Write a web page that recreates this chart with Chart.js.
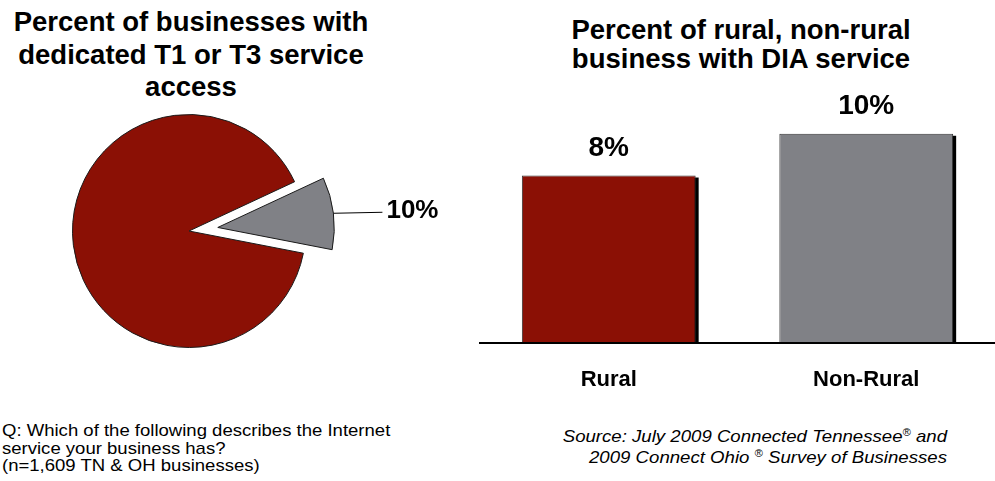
<!DOCTYPE html>
<html>
<head>
<meta charset="utf-8">
<script src="https://cdn.jsdelivr.net/npm/chart.js@4/dist/chart.umd.min.js"></script>
<style>
  html, body { margin: 0; padding: 0; background: #fff; }
  body { width: 995px; height: 481px; position: relative; overflow: hidden;
         font-family: "Liberation Sans", Arial, sans-serif; color: #000; }
  .abs { position: absolute; }
  .title { font-weight: bold; font-size: 27.5px; text-align: center; }
  #pieTitle { left: 0; width: 382px; top: 6px; line-height: 32.5px; }
  #barTitle { left: 541px; width: 400px; top: 15px; line-height: 29px; }
  #question { left: 2px; top: 422px; font-size: 17px; line-height: 17.5px;
              white-space: nowrap; transform: scaleX(1.09); transform-origin: 0 0; }
  #source { left: 447px; width: 500px; top: 426px; font-size: 17px; line-height: 21px;
            font-style: italic; text-align: right; white-space: nowrap;
            transform: scaleX(1.095); transform-origin: 100% 0; }
  sup { font-size: 60%; line-height: 0; vertical-align: 0.55em; }
  canvas { position: absolute; }
</style>
</head>
<body>
<div id="pieTitle" class="abs title">Percent of businesses with<br>dedicated T1 or T3 service<br>access</div>
<div id="barTitle" class="abs title">Percent of rural, non-rural<br>business with DIA service</div>
<div id="question" class="abs">Q: Which of the following describes the Internet<br>service your business has?<br>(n=1,609 TN &amp; OH businesses)</div>
<div id="source" class="abs">Source: July 2009 Connected Tennessee<sup>®</sup> and<br>2009 Connect Ohio <sup>®</sup> Survey of Businesses</div>

<canvas id="pie" width="470" height="262" style="left:0;top:100px;"></canvas>
<canvas id="bars" width="525" height="327" style="left:470px;top:90px;"></canvas>

<script>
// Share of businesses with dedicated T1/T3 access (percent)
const pieLabels = ['Dedicated T1 or T3', 'Other'];
const pieValues = [10, 90];

// DIA service by location type (percent)
const barLabels = ['Rural', 'Non-Rural'];
const barValues = [8, 10];

const RED = '#8B1005';
const GRAY = '#808186';
const FONT = '"Liberation Sans", Arial, sans-serif';
const EXPLODE = 29; // how far the highlighted slice is pulled out, px

// Pull the first slice out along its bisector, then add the leader line and label
const pieCallout = {
  id: 'pieCallout',
  beforeDatasetsDraw(chart) {
    const arc = chart.getDatasetMeta(0).data[0];
    if (arc._exploded) return;
    const baseDraw = Object.getPrototypeOf(arc).draw;
    arc.draw = function (ctx) {
      const mid = (this.startAngle + this.endAngle) / 2;
      ctx.save();
      ctx.translate(Math.cos(mid) * EXPLODE, Math.sin(mid) * EXPLODE);
      baseDraw.call(this, ctx);
      ctx.restore();
    };
    arc._exploded = true;
  },
  afterDatasetsDraw(chart) {
    const arc = chart.getDatasetMeta(0).data[0];
    const mid = (arc.startAngle + arc.endAngle) / 2;
    const r = arc.outerRadius + EXPLODE;
    const x0 = arc.x + Math.cos(mid) * r;
    const y0 = arc.y + Math.sin(mid) * r;
    const x1 = x0 + 49;
    const y1 = y0 - 1;
    const ctx = chart.ctx;
    ctx.save();
    ctx.strokeStyle = '#000';
    ctx.lineWidth = 1;
    ctx.beginPath();
    ctx.moveTo(x0, y0);
    ctx.lineTo(x1, y1);
    ctx.stroke();
    ctx.fillStyle = '#000';
    ctx.font = 'bold 26px ' + FONT;
    ctx.textAlign = 'left';
    ctx.textBaseline = 'middle';
    ctx.fillText(pieValues[0] + '%', x1 + 4, y1 - 1);
    ctx.restore();
  }
};

new Chart(document.getElementById('pie'), {
  type: 'pie',
  data: {
    labels: pieLabels,
    datasets: [{
      data: pieValues,
      backgroundColor: [GRAY, RED],
      borderColor: '#1a1a1a',
      borderWidth: 1
    }]
  },
  options: {
    responsive: false,
    animation: false,
    rotation: 65,
    radius: 116.5,
    layout: { padding: { right: 92 } },
    plugins: { legend: { display: false }, tooltip: { enabled: false } }
  },
  plugins: [pieCallout]
});

// Hard black drop shadow behind each bar, value labels above them
const SHADOW_DX = 3, SHADOW_DY = 2;
const barDecor = {
  id: 'barDecor',
  beforeDatasetsDraw(chart) {
    const ctx = chart.ctx;
    const bottom = chart.chartArea.bottom;
    ctx.save();
    ctx.fillStyle = '#000';
    chart.getDatasetMeta(0).data.forEach(bar => {
      const { x, y, base, width } = bar.getProps(['x', 'y', 'base', 'width'], true);
      const left = x - width / 2 + SHADOW_DX;
      const top = y + SHADOW_DY;
      ctx.fillRect(left, top, width, Math.min(base, bottom) - top);
    });
    ctx.restore();
  },
  afterDatasetsDraw(chart) {
    const ctx = chart.ctx;
    ctx.save();
    ctx.fillStyle = '#000';
    ctx.font = 'bold 28px ' + FONT;
    ctx.textAlign = 'center';
    ctx.textBaseline = 'alphabetic';
    chart.getDatasetMeta(0).data.forEach((bar, i) => {
      ctx.fillText(barValues[i] + '%', bar.x, bar.y - 20);
    });
    ctx.restore();
  }
};

new Chart(document.getElementById('bars'), {
  type: 'bar',
  data: {
    labels: barLabels,
    datasets: [{
      data: barValues,
      backgroundColor: [RED, GRAY],
      borderColor: '#333',
      borderWidth: 1,
      barPercentage: 0.675,
      categoryPercentage: 1
    }]
  },
  options: {
    responsive: false,
    animation: false,
    layout: { padding: { left: 10, top: 2, right: 0, bottom: 0 } },
    plugins: { legend: { display: false }, tooltip: { enabled: false } },
    scales: {
      y: { display: false, min: 0, max: 12 },
      x: {
        grid: { display: false, drawTicks: false },
        border: { display: true, color: '#000', width: 2, z: 1 },
        ticks: {
          color: '#000',
          padding: 24,
          font: { family: FONT, weight: 'bold', size: 22 }
        }
      }
    }
  },
  plugins: [barDecor]
});
</script>
</body>
</html>
